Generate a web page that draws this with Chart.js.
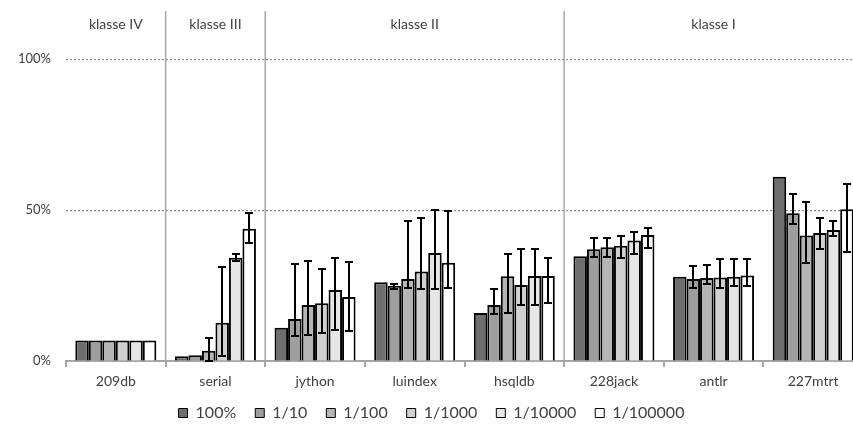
<!DOCTYPE html>
<html>
<head>
<meta charset="utf-8">
<script src="https://cdn.jsdelivr.net/npm/chart.js@4.4.1/dist/chart.umd.min.js"></script>
<style>
html,body{margin:0;padding:0;overflow:hidden;background:#fff;}
#wrap{position:relative;width:863px;height:426px;}
</style>
</head>
<body>
<div id="wrap"><canvas id="c"></canvas></div>
<script>
const categories = ['209db','serial','jython','luindex','hsqldb','228jack','antlr','227mtrt'];
const seriesNames = ['100%','1/10','1/100','1/1000','1/10000','1/100000'];
const s100    = [6.8, 1.6, 11.0, 26.1, 15.9, 34.7, 27.9, 61.1];
const s10     = [6.8, 1.9, 13.9, 24.9, 18.6, 37.0, 27.2, 49.0];
const s100b   = [6.8, 3.4, 18.6, 27.2, 28.1, 37.7, 27.5, 41.6];
const s1000   = [6.8, 12.7, 19.1, 29.7, 25.2, 38.2, 27.7, 42.4];
const s10000  = [6.8, 34.2, 23.5, 35.8, 28.2, 39.9, 27.9, 43.4];
const s100000 = [6.8, 43.8, 21.2, 32.6, 28.2, 41.8, 28.3, 50.3];

const errLow10      = [null, null, 8.3, 24.0, 15.7, 34.4, 24.3, 45.4];
const errHigh10     = [null, null, 32.2, 25.5, 23.7, 40.8, 31.6, 55.5];
const errLow100     = [null, 0.0, 8.7, 24.1, 15.8, 34.5, 25.5, 32.6];
const errHigh100    = [null, 7.5, 33.1, 46.5, 35.5, 40.6, 31.8, 52.7];
const errLow1000    = [null, 1.6, 9.3, 24.0, 18.7, 34.1, 24.1, 37.0];
const errHigh1000   = [null, 31.1, 30.4, 47.5, 37.1, 41.4, 33.8, 47.3];
const errLow10000   = [null, 33.3, 10.2, 24.0, 18.6, 35.3, 24.9, 41.4];
const errHigh10000  = [null, 35.5, 34.3, 49.9, 37.1, 42.7, 33.7, 46.4];
const errLow100000  = [null, 39.0, 10.1, 24.3, 19.3, 37.3, 25.0, 36.2];
const errHigh100000 = [null, 48.9, 32.9, 49.6, 34.2, 44.2, 33.8, 58.5];

const yTicks = [0, 50, 100];
const groupNames = ['klasse IV','klasse III','klasse II','klasse I'];
const groupSizes = [1, 1, 3, 3];

const colors = ['#6e6e6e','#9e9e9e','#b5b5b5','#d0d0d0','#e6e6e6','#ffffff'];
const values = [s100, s10, s100b, s1000, s10000, s100000];
const lows = [null, errLow10, errLow100, errLow1000, errLow10000, errLow100000];
const highs = [null, errHigh10, errHigh100, errHigh1000, errHigh10000, errHigh100000];

const FONT = 'Lato, "Open Sans", sans-serif';
const TEXT = '#404040';

const datasets = seriesNames.map((n, i) => ({
  label: n,
  data: values[i],
  backgroundColor: colors[i],
  borderColor: '#000000',
  borderWidth: 2,
  barPercentage: 1.0,
  categoryPercentage: 0.813
}));

const errorBars = {
  id: 'errorBars',
  afterDatasetsDraw(chart) {
    const ctx = chart.ctx, y = chart.scales.y;
    ctx.save();
    ctx.strokeStyle = '#000';
    ctx.lineWidth = 2;
    chart.data.datasets.forEach((ds, di) => {
      const lo = lows[di], hi = highs[di];
      if (!lo) return;
      const meta = chart.getDatasetMeta(di);
      meta.data.forEach((bar, k) => {
        if (lo[k] == null || hi[k] == null) return;
        const x = Math.round(bar.x);
        const yl = Math.round(y.getPixelForValue(lo[k])), yh = Math.round(y.getPixelForValue(hi[k]));
        ctx.beginPath();
        ctx.moveTo(x, yl); ctx.lineTo(x, yh);
        ctx.moveTo(x - 4, yl); ctx.lineTo(x + 4, yl);
        ctx.moveTo(x - 4, yh); ctx.lineTo(x + 4, yh);
        ctx.stroke();
      });
    });
    ctx.restore();
  }
};

const groups = {
  id: 'groups',
  beforeDatasetsDraw(chart) {
    const ctx = chart.ctx, x = chart.scales.x, area = chart.chartArea;
    const step = x.getPixelForValue(1) - x.getPixelForValue(0);
    ctx.save();
    ctx.strokeStyle = '#a6a6a6';
    ctx.lineWidth = 1.5;
    let idx = 0;
    groupSizes.forEach((sz, g) => {
      const left = x.getPixelForValue(idx) - step / 2;
      const right = x.getPixelForValue(idx + sz - 1) + step / 2;
      if (g > 0) {
        ctx.beginPath();
        ctx.moveTo(left, area.top);
        ctx.lineTo(left, area.bottom);
        ctx.stroke();
      }
      ctx.fillStyle = TEXT;
      ctx.font = '14px ' + FONT;
      ctx.textAlign = 'center';
      ctx.textBaseline = 'middle';
      ctx.fillText(groupNames[g], (left + right) / 2, area.top + 13);
      idx += sz;
    });
    ctx.restore();
  }
};

const legendFit = {
  id: 'legendFit',
  beforeLayout(chart) {
    const lg = chart.legend;
    if (lg && !lg._patched) {
      const orig = lg.fit;
      lg.fit = function () { orig.call(this); this.height = 33; };
      lg._patched = true;
    }
  },
  afterLayout(chart) {
    const lg = chart.legend;
    if (lg) { lg.top -= 5; lg.bottom -= 5; }
  }
};

new Chart(document.getElementById('c'), {
  type: 'bar',
  data: { labels: categories, datasets },
  plugins: [legendFit, groups, errorBars],
  options: {
    responsive: true,
    maintainAspectRatio: false,
    animation: false,
    layout: { padding: { top: 11, left: 0, right: 0, bottom: 2 } },
    plugins: {
      tooltip: { enabled: false },
      legend: {
        position: 'bottom',
        labels: {
          boxWidth: 9, boxHeight: 9, padding: 19,
          color: TEXT,
          font: { family: FONT, size: 16 },
          generateLabels(chart) {
            return chart.data.datasets.map((ds, i) => ({
              text: ds.label, fillStyle: ds.backgroundColor, strokeStyle: '#000',
              lineWidth: 1, datasetIndex: i, hidden: false, fontColor: TEXT
            }));
          }
        }
      }
    },
    scales: {
      x: {
        offset: true,
        grid: { display: true, drawOnChartArea: false, drawTicks: true, tickLength: 6, color: '#a6a6a6', lineWidth: 2, offset: true },
        border: { display: true, color: '#a6a6a6', width: 2 },
        ticks: { color: TEXT, font: { family: FONT, size: 14 }, padding: 6, maxRotation: 0 },
        afterFit(s) { s.height = 30; s.paddingLeft = 0; s.paddingRight = 0; }
      },
      y: {
        min: 0, max: 116,
        afterBuildTicks(s) { s.ticks = yTicks.map(v => ({ value: v })); },
        grid: {
          drawTicks: false,
          color: (c) => c.tick && c.tick.value === 0 ? 'rgba(0,0,0,0)' : '#8c8c8c',
          lineWidth: 1.2,
        },
        border: { display: false, dash: [2, 2] },
        ticks: {
          color: TEXT, font: { family: FONT, size: 13 }, padding: 15,
          callback: (v) => v + '%'
        },
        afterFit(s) { s.width = 66; s.paddingTop = 0; s.paddingBottom = 0; }
      }
    }
  }
});
</script>
</body>
</html>
